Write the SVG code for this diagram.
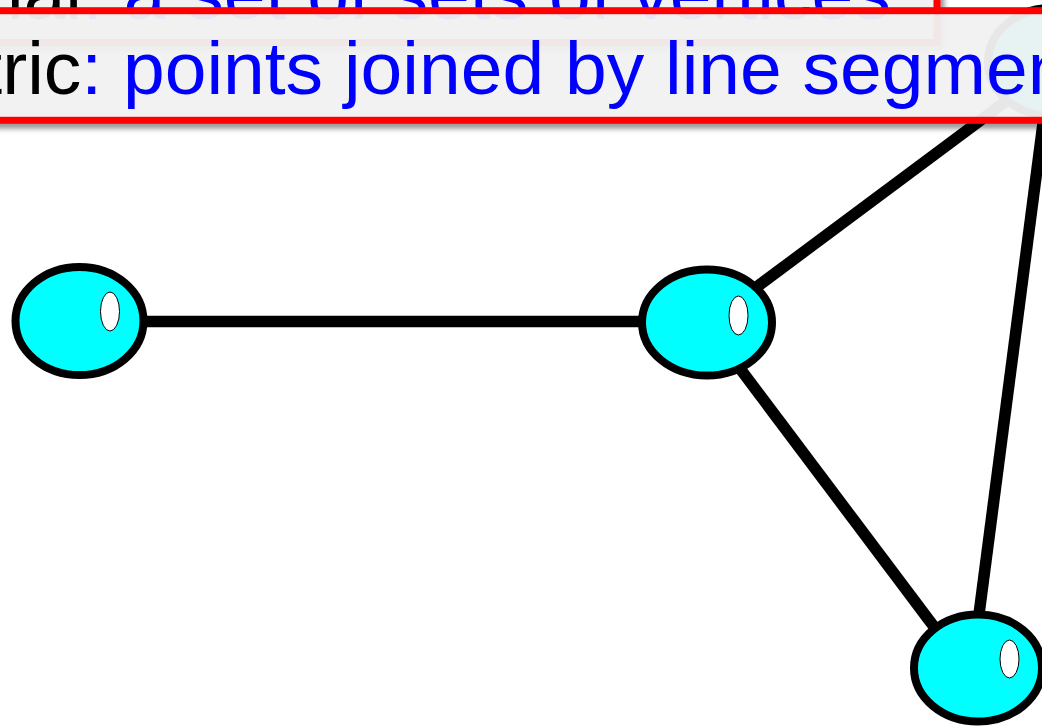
<svg xmlns="http://www.w3.org/2000/svg" width="1042" height="728" viewBox="0 0 1042 728">
  <style>
    .edge { stroke: #000; stroke-width: 11.5; fill: none; }
    .node { fill: #00ffff; stroke: #000; stroke-width: 8; }
    .hl { fill: #fff; stroke: #000; stroke-width: 1; }
    .box { fill: #f4f4f4; fill-opacity: 0.93; stroke: #ff0000; stroke-width: 7; }
    .t { font-family: "Liberation Sans", Arial, sans-serif; font-size: 75px; }
    .k { fill: #000; }
    .b { fill: #0000ff; }
  </style>
  <defs>
    <filter id="shadow" x="-10%" y="-10%" width="130%" height="150%">
      <feDropShadow dx="4" dy="5" stdDeviation="2.5" flood-color="#000" flood-opacity="0.4"/>
    </filter>
  </defs>
  <rect width="1042" height="728" fill="#fff"/>
  <g id="edges">
    <line class="edge" x1="79" y1="321.5" x2="707" y2="321.5"/>
    <line class="edge" x1="707" y1="324" x2="1052" y2="67"/>
    <line class="edge" x1="705" y1="322" x2="965" y2="668"/>
    <line class="edge" x1="972" y1="668" x2="1051" y2="62"/>
  </g>
  <g id="node-left">
    <ellipse class="node" cx="79.5" cy="321" rx="64" ry="54"/>
    <ellipse class="hl" cx="110" cy="311.5" rx="9.5" ry="19.5"/>
  </g>
  <g id="node-middle">
    <ellipse class="node" cx="707" cy="322.5" rx="65" ry="53"/>
    <ellipse class="hl" cx="738.5" cy="315.5" rx="9.5" ry="19.5"/>
  </g>
  <g id="node-bottom">
    <ellipse class="node" cx="978" cy="668" rx="64" ry="53.5"/>
    <ellipse class="hl" cx="1009.5" cy="659" rx="9.5" ry="19"/>
  </g>
  <g id="node-top">
    <ellipse class="node" cx="1052" cy="62" rx="64" ry="54"/>
    <ellipse class="hl" cx="1083" cy="54" rx="9.5" ry="19.5"/>
  </g>
  <g id="box-combinatorial" filter="url(#shadow)">
    <rect class="box" x="-30" y="-120" width="967" height="162.5"/>
    <text class="t" x="7" y="19"><tspan class="k">ial</tspan><tspan class="b">: a set of sets of vertices</tspan></text>
  </g>
  <g id="box-geometric" filter="url(#shadow)">
    <rect class="box" x="-30" y="10.7" width="1120" height="109.6"/>
    <text class="t" x="-18.7" y="93.5"><tspan class="k">tric</tspan><tspan class="b">: points joined by line segmen</tspan></text>
  </g>
</svg>
